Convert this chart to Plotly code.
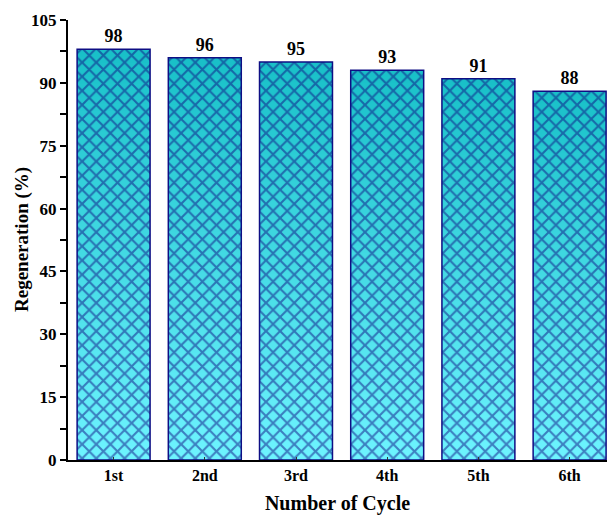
import plotly.graph_objects as go

cycles = ["1st", "2nd", "3rd", "4th", "5th", "6th"]
regeneration = [98, 96, 95, 93, 91, 88]

y_ticks = [0, 15, 30, 45, 60, 75, 90, 105]

FONT = "Liberation Serif"
NAVY = "#0e0e84"
TOP_RGB = (24, 192, 200)     # darker teal at the bar top
BOTTOM_RGB = (110, 244, 255)  # light cyan at the bar base

fig = go.Figure()

# Vertical gradient fill: each bar is built from thin slices of its own height
n_slices = 60
for k in range(n_slices):
    t = (k + 0.5) / n_slices
    rgb = tuple(round(BOTTOM_RGB[i] + (TOP_RGB[i] - BOTTOM_RGB[i]) * t) for i in range(3))
    bases = [v * k / n_slices for v in regeneration]
    heights = [min(v / n_slices * 1.15, v - b) for v, b in zip(regeneration, bases)]
    fig.add_trace(go.Bar(
        x=cycles, y=heights, base=bases, width=0.8,
        marker=dict(color="rgb(%d,%d,%d)" % rgb, line=dict(width=0)),
        hoverinfo="skip", showlegend=False,
    ))

# Cross-hatch, outline and value labels on top
fig.add_trace(go.Bar(
    x=cycles, y=regeneration, base=[0] * len(cycles), width=0.8,
    marker=dict(
        color="rgba(0,0,0,0)",
        line=dict(color=NAVY, width=1.5),
        pattern=dict(shape="x", fgcolor=NAVY, bgcolor="rgba(0,0,0,0)",
                     size=10, solidity=0.38, fillmode="overlay"),
    ),
    text=["<b>%d</b>" % v for v in regeneration], textposition="outside",
    textfont=dict(family=FONT, size=18, color="black"),
    cliponaxis=False, showlegend=False,
))

# Y-axis title placed as a rotated annotation
fig.add_annotation(
    text="<b>Regeneration (%)</b>", textangle=-90,
    xref="paper", yref="paper", x=(22 - 68) / 539, y=0.5,
    xanchor="center", yanchor="middle", showarrow=False,
    font=dict(family=FONT, size=19, color="black"),
)

fig.update_layout(
    barmode="overlay",
    width=607, height=515,
    margin=dict(l=68, r=0, t=20, b=55),
    plot_bgcolor="white", paper_bgcolor="white",
    font=dict(family=FONT, color="black"),
    xaxis=dict(
        range=[-0.5, 5.41],
        showline=True, linecolor="black", linewidth=2,
        ticks="inside", ticklen=3, tickcolor="#333", tickwidth=1,
        tickfont=dict(family=FONT, size=16, color="black", weight="bold"),
        title=dict(text="<b>Number of Cycle</b>", font=dict(family=FONT, size=20), standoff=16),
        showgrid=False, zeroline=False,
    ),
    yaxis=dict(
        range=[0, 105],
        tickvals=y_ticks,
        showline=True, linecolor="black", linewidth=2,
        ticks="outside", ticklen=6, tickwidth=1.5, tickcolor="black",
        minor=dict(dtick=7.5, ticks="outside", ticklen=6, tickwidth=1.5, tickcolor="black", showgrid=False),
        tickfont=dict(family=FONT, size=17, color="black", weight="bold"),
        showgrid=False, zeroline=False,
    ),
)

fig.write_html("out.html")
